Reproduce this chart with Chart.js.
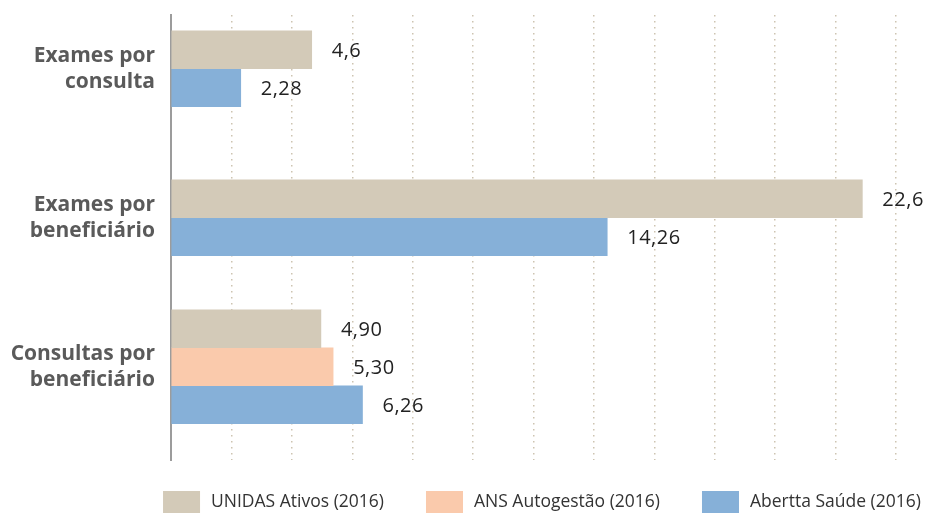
<!DOCTYPE html>
<html>
<head>
<meta charset="utf-8">
<script src="https://cdn.jsdelivr.net/npm/chart.js@4/dist/chart.umd.min.js"></script>
<style>
body{margin:0;background:#fff}
#wrap{width:925px;height:513px;position:relative}
</style>
</head>
<body>
<div id="wrap"><canvas id="chart"></canvas></div>
<script>

const categories=["Exames por consulta","Exames por beneficiário","Consultas por beneficiário"]
const seriesNames=["UNIDAS Ativos (2016)","ANS Autogestão (2016)","Abertta Saúde (2016)"]

const unidas=[4.6,22.6,4.90]
const ans=[null,null,5.30]
const abertta=[2.28,14.26,6.26]

const unidasText=["4,6","22,6","4,90"]
const ansText=[null,null,"5,30"]
const aberttaText=["2,28","14,26","6,26"]

const colors=["#d3cab8","#facaac","#86b0d8"]
const valueTexts=[unidasText,ansText,aberttaText]

const font="'Open Sans', sans-serif"

function splitLabel(s){
let k=s.lastIndexOf(" ")
return [s.slice(0,k),s.slice(k+1)]
}

// value labels next to each bar
const valueLabels={
id:"valueLabels",
afterDatasetsDraw(chart){
const ctx=chart.ctx
ctx.save()
ctx.font="20px "+font
ctx.letterSpacing="0.5px"
ctx.fillStyle="#222"
ctx.textBaseline="middle"
chart.data.datasets.forEach((ds,i)=>{
chart.getDatasetMeta(i).data.forEach((bar,j)=>{
if(ds.data[j]==null) return
ctx.fillText(valueTexts[i][j],bar.x+20,bar.y+2)
})
})
ctx.restore()
}
}

// legend at the bottom
const legendRow={
id:"legendRow",
afterDraw(chart){
const ctx=chart.ctx
ctx.save()
ctx.font="17.5px "+font
ctx.textBaseline="middle"
const boxW=37, boxH=23, textGap=11, gap=42
let widths=seriesNames.map(n=>boxW+textGap+ctx.measureText(n).width)
let total=widths.reduce((a,b)=>a+b,0)+gap*(widths.length-1)
let x=(chart.chartArea.left+chart.width)/2-total/2-6
const top=491
seriesNames.forEach((n,i)=>{
ctx.fillStyle=colors[i]
ctx.fillRect(x,top,boxW,boxH)
ctx.fillStyle="#333"
ctx.fillText(n,x+boxW+textGap,top+11)
x+=widths[i]+gap
})
ctx.restore()
}
}

new Chart(document.getElementById("chart"),{

type:"bar",

data:{
labels:categories.map((c,i)=>i),
datasets:[
{label:seriesNames[0],data:unidas,backgroundColor:colors[0]},
{label:seriesNames[1],data:ans,backgroundColor:colors[1]},
{label:seriesNames[2],data:abertta,backgroundColor:colors[2]}
]
},

options:{
indexAxis:"y",
responsive:true,
maintainAspectRatio:false,
animation:false,
skipNull:true,
barThickness:38,
layout:{padding:{left:0,top:15,right:29,bottom:53}},
plugins:{
legend:{display:false},
tooltip:{enabled:false}
},
scales:{
x:{
type:"linear",
min:0,
max:23.7,
ticks:{display:false,count:13},
grid:{color:"#cdc4b1",lineWidth:1.5,drawTicks:false},
border:{display:false,dash:[1.5,4.5]},
afterFit(s){s.height=0;s.paddingLeft=0;s.paddingRight=0}
},
y:{
type:"linear",
reverse:true,
offset:false,
min:-0.361,
max:2.626,
afterBuildTicks(s){s.ticks=categories.map((c,i)=>({value:i}))},
ticks:{
callback:v=>splitLabel(categories[v]),
color:"#5a5a5a",
padding:16,
font:{family:font,size:21,weight:"bold",lineHeight:1.24}
},
grid:{display:false,drawTicks:false,offset:false},
border:{display:true,color:"#9c9c9c",width:2},
afterFit(s){s.width=171;s.paddingTop=0;s.paddingBottom=0}
}
}
},

plugins:[valueLabels,legendRow]

})

</script>
</body>
</html>
